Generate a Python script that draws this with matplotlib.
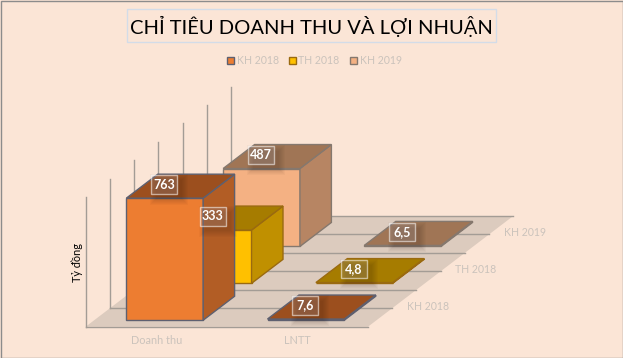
import matplotlib
matplotlib.use("Agg")
import matplotlib.pyplot as plt
from matplotlib.patches import Polygon, Rectangle

categories = ["Doanh thu", "LNTT"]
series = ["KH 2018", "TH 2018", "KH 2019"]
kh_2018 = [763, 7.6]
th_2018 = [333, 4.8]
kh_2019 = [487, 6.5]
labels_kh_2018 = ["763", "7,6"]
labels_th_2018 = ["333", "4,8"]
labels_kh_2019 = ["487", "6,5"]

BG = "#FBE5D6"
FLOOR = "#DCCBBE"
GRID = "#A39C95"
MUTED = "#CBC3BC"
front_cols = ["#ED7D31", "#FFC000", "#F4B183"]
side_cols = ["#B25D25", "#C09000", "#B78563"]
top_cols = ["#9C4F1E", "#A67C00", "#A07555"]
edge_cols = ["#5E6070", "#9A6A10", "#85786E"]

plt.rcParams["font.family"] = ["Lato", "DejaVu Sans"]

# oblique projection, pixels of the 623x358 picture
X0, Y0 = 85.7, 326.7
CAT_W = 141.15
DX, DY = 24.2, 18.45
V_SCALE = 0.16
WALL_H = 129.5
N_DEPTH = 6


def proj(cat, depth, val=0):
    return (X0 + cat * CAT_W + depth * DX, Y0 - depth * DY - val * V_SCALE)


def draw_bar(ax, cat, row, val, idx):
    a0, a1 = cat + 0.228, cat + 0.772
    d0, d1 = row * 2 + 0.35, row * 2 + 1.65
    ec = edge_cols[idx]
    z = 5 + (2 - row)
    front = [proj(a0, d0), proj(a1, d0), proj(a1, d0, val), proj(a0, d0, val)]
    side = [proj(a1, d0), proj(a1, d1), proj(a1, d1, val), proj(a1, d0, val)]
    top = [proj(a0, d0, val), proj(a1, d0, val), proj(a1, d1, val), proj(a0, d1, val)]
    ax.add_patch(Polygon(front, fc=front_cols[idx], ec=ec, lw=1, zorder=z))
    ax.add_patch(Polygon(side, fc=side_cols[idx], ec=ec, lw=1, zorder=z))
    ax.add_patch(Polygon(top, fc=top_cols[idx], ec=ec, lw=1, zorder=z))


def draw_label(ax, cat, row, val, text):
    x, y = proj(cat + 0.5, row * 2 + 1, val)
    x -= 16.3
    y -= 1.6
    w, h = 26, 18.5
    # soft shadow, stacked translucent boxes
    for grow in range(6, -1, -1):
        ax.add_patch(Rectangle((x - w / 2 + 5 - grow, y - h / 2 + 5 - grow),
                               w + 2 * grow, h + 2 * grow,
                               fc="#301810", ec="none", alpha=0.03, zorder=10))
    ax.add_patch(Rectangle((x - w / 2, y - h / 2), w, h, fc=(0.72, 0.72, 0.78, 0.2),
                           ec=(1, 1, 1, 0.55), lw=1, zorder=11))
    ax.text(x, y, text, color="white", fontsize=9, fontweight="bold",
            ha="center", va="center", zorder=12)


fig = plt.figure(figsize=(6.23, 3.58), dpi=100, facecolor=BG)
ax = fig.add_axes([0, 0, 1, 1])
ax.set_xlim(0, 623)
ax.set_ylim(358, 0)
ax.axis("off")

# chart border
ax.add_patch(Rectangle((0.5, 0.5), 622, 357, fc="none", ec="#8C8C8C", lw=1, zorder=20))

# floor
ax.add_patch(Polygon([proj(0, 0), proj(2, 0), proj(2, N_DEPTH), proj(0, N_DEPTH)],
                     fc=FLOOR, ec="none", zorder=1))
for d in range(N_DEPTH + 1):
    ax.plot(*zip(proj(0, d), proj(2, d)), color=GRID, lw=1, zorder=2)
    x, y = proj(0, d)
    ax.plot([x, x], [y, y - WALL_H], color=GRID, lw=1, zorder=2)

all_series = [kh_2018, th_2018, kh_2019]
all_labels = [labels_kh_2018, labels_th_2018, labels_kh_2019]

for row in [2, 1, 0]:
    for cat in range(len(categories)):
        draw_bar(ax, cat, row, all_series[row][cat], row)

for row in [2, 1, 0]:
    for cat in range(len(categories)):
        draw_label(ax, cat, row, all_series[row][cat], all_labels[row][cat])

# axis texts
for cat, name in enumerate(categories):
    x, _ = proj(cat + 0.5, 0)
    ax.text(x, 340, name, color=MUTED, fontsize=7.8, ha="center", va="center")
for row, name in enumerate(series):
    x, y = proj(2, row * 2 + 1)
    ax.text(x + 14.5, y - 1.6, name, color=MUTED, fontsize=7.6, ha="left", va="center")
ax.text(77.3, 262.3, "Tỷ đồng", color="black", fontsize=7.8, rotation=90,
        ha="center", va="center")

# title
ax.add_patch(Rectangle((126.5, 8.5), 369, 33, fc="none", ec="#D3DCE8", lw=1))
ax.text(311, 26, "CHỈ TIÊU DOANH THU VÀ LỢI NHUẬN", color="black", fontsize=14.5,
        ha="center", va="center")

# legend
legend_x = [230.5, 292, 353.5]
for i, name in enumerate(series):
    ax.add_patch(Rectangle((legend_x[i] - 3.5, 56.5), 7, 7, fc=front_cols[i],
                           ec=edge_cols[i], lw=1))
    ax.text(legend_x[i] + 6.5, 60, name, color=MUTED, fontsize=7.6, ha="left", va="center")

fig.savefig("out.png", dpi=100, facecolor=BG)
